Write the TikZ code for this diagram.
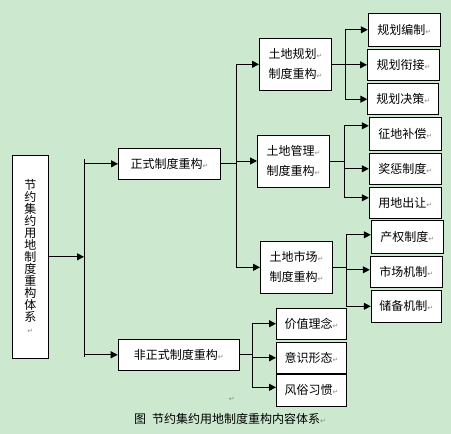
\documentclass[tikz,border=0pt]{standalone}
\usepackage{fontspec}
\usepackage{xcolor}
\usepackage{tikz}
\usetikzlibrary{arrows.meta, positioning}
\newfontfamily\cjkfont{Noto Sans CJK SC}
\newfontfamily\symfont{DejaVu Sans}
\definecolor{bggreen}{RGB}{204,232,207}
\definecolor{markgray}{RGB}{140,140,140}
\newcommand{\pmark}{{\symfont\fontsize{7pt}{7pt}\selectfont\color{markgray}↵}}

\begin{document}
\begin{tikzpicture}[x=1pt, y=-1pt,
  box/.style={draw, fill=white, line width=1pt, inner sep=0pt, align=center,
              font=\cjkfont\fontsize{12pt}{20pt}\selectfont},
  topbox/.style={box, minimum height=31pt},
  midbox/.style={box, minimum width=72pt, minimum height=52pt},
  leafbox/.style={box, minimum width=72pt, minimum height=32pt},
  line/.style={line width=1pt},
  arr/.style={-{Triangle[length=7pt, width=7pt]}, line width=1pt}
]
  % background
  \fill[bggreen] (0,0) rectangle (451,434);

  % root
  \node[box, minimum width=36pt, minimum height=203pt,
        font=\cjkfont\fontsize{12pt}{12pt}\selectfont] (root) at (30.3,256.8)
       {节\\约\\集\\约\\用\\地\\制\\度\\重\\构\\体\\系\\\pmark};

  % formal / informal
  \node[topbox, minimum width=102pt] (zs) at (169.5,163.8) {正式制度重构\pmark};
  \node[topbox, minimum width=121pt] (fzs) at (178.7,354.8) {非正式制度重构\pmark};

  % land systems
  \node[midbox] (gh) at (295.5,64.3) {土地规划\pmark\\制度重构\pmark};
  \node[midbox] (gl) at (293.5,161) {土地管理\pmark\\制度重构\pmark};
  \node[midbox] (sc) at (296.5,267.3) {土地市场\pmark\\制度重构\pmark};

  % leaves: planning
  \node[leafbox, minimum height=33pt] (bz) at (404.3,29.8) {规划编制\pmark};
  \node[leafbox, minimum height=31pt] (xj) at (403.5,64.8) {规划衔接\pmark};
  \node[leafbox, minimum height=31pt, minimum width=71pt] (jc) at (403.3,99.2) {规划决策\pmark};

  % leaves: management
  \node[leafbox, minimum height=33pt] (zd) at (405.3,133.8) {征地补偿\pmark};
  \node[leafbox, minimum height=31pt] (jcz) at (405.3,168.8) {奖惩制度\pmark};
  \node[leafbox, minimum height=31pt] (cr) at (405.3,202.8) {用地出让\pmark};

  % leaves: market
  \node[leafbox, minimum height=33pt] (cq) at (407.3,236.8) {产权制度\pmark};
  \node[leafbox, minimum height=31pt] (scjz) at (406.3,271.8) {市场机制\pmark};
  \node[leafbox, minimum width=70pt] (cb) at (406.3,306.3) {储备机制\pmark};

  % leaves: informal
  \node[leafbox, minimum width=70pt, minimum height=31pt] (jz) at (311.5,323.7) {价值理念\pmark};
  \node[leafbox, minimum width=70pt, minimum height=31pt] (ys) at (311.5,357.8) {意识形态\pmark};
  \node[leafbox, minimum width=70pt] (fs) at (311.5,390.3) {风俗习惯\pmark};

  % bus lines
  \coordinate (b0t) at (84,159);
  \coordinate (b0b) at (84,357);
  \coordinate (b1) at (236,0);
  \coordinate (b2) at (345,0);
  \coordinate (b3) at (344,0);
  \coordinate (b4) at (346,0);
  \coordinate (b5) at (252,0);

  \draw[arr] (root.east) -- (root.east -| b0t);
  \draw[line] (b0t) -- (b0b);
  \draw[arr] (b0t |- zs.west) -- (zs.west);
  \draw[arr] (b0t |- fzs.west) -- (fzs.west);

  \draw[line] (zs.east) -- (zs.east -| b1);
  \draw[line] (b1 |- gh.west) -- (b1 |- sc.west);
  \foreach \n in {gh, gl, sc}
    \draw[arr] (b1 |- \n.west) -- (\n.west);

  \draw[line] (gh.east) -- (gh.east -| b2);
  \draw[line] (b2 |- bz.west) -- (b2 |- jc.west);
  \foreach \n in {bz, xj, jc}
    \draw[arr] (b2 |- \n.west) -- (\n.west);

  \draw[line] (gl.east) -- (gl.east -| b3);
  \draw[line] ([yshift=8pt]b3 |- zd.west) -- ([yshift=5pt]b3 |- cr.west);
  \draw[arr] ([yshift=8pt]b3 |- zd.west) -- ([yshift=8pt]zd.west);
  \draw[arr] (b3 |- jcz.west) -- (jcz.west);
  \draw[arr] ([yshift=5pt]b3 |- cr.west) -- ([yshift=5pt]cr.west);

  \draw[line] (sc.east) -- (sc.east -| b4);
  \draw[line] ([yshift=2pt]b4 |- cq.west) -- (b4 |- cb.west);
  \draw[arr] ([yshift=2pt]b4 |- cq.west) -- ([yshift=2pt]cq.west);
  \draw[arr] ([yshift=2pt]b4 |- scjz.west) -- ([yshift=2pt]scjz.west);
  \draw[arr] (b4 |- cb.west) -- (cb.west);

  \draw[line] (fzs.east) -- (fzs.east -| b5);
  \draw[line] (b5 |- jz.west) -- ([yshift=3pt]b5 |- fs.west);
  \draw[arr] (b5 |- jz.west) -- (jz.west);
  \draw[arr] (b5 |- ys.west) -- (ys.west);
  \draw[arr] ([yshift=3pt]b5 |- fs.west) -- ([yshift=3pt]fs.west);

  % caption
  \node[inner sep=0pt] (blank) at (231.7,399.3) {\pmark};
  \node[inner sep=0pt, font=\cjkfont\fontsize{12pt}{12pt}\selectfont] (cap) at (230,419)
       {图\hspace{6pt}节约集约用地制度重构内容体系\pmark};
\end{tikzpicture}
\end{document}
